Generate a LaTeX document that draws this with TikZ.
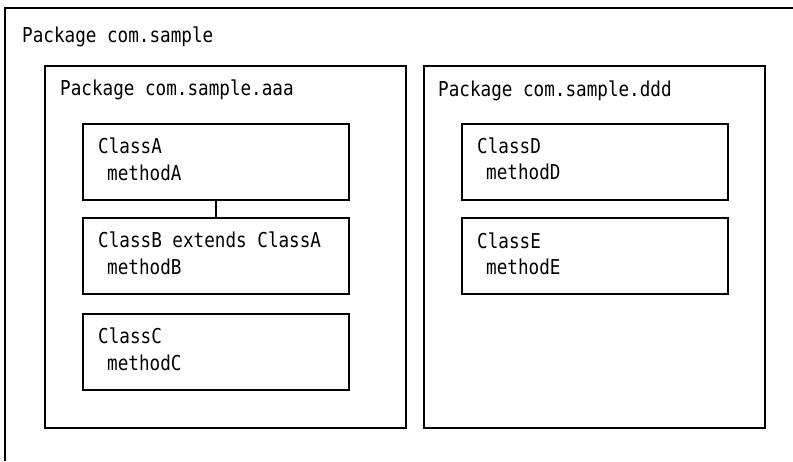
\documentclass[tikz,border=0pt]{standalone}
\usepackage{fontspec}
\newfontfamily\gfont[FakeStretch=0.86]{DejaVu Sans Mono}
\begin{document}
\begin{tikzpicture}[x=1pt,y=-1pt,
  box/.style={draw=black,line width=1.8pt,rectangle,inner sep=0pt,anchor=north west},
  txt/.style={inner sep=0pt,anchor=base west,font=\gfont\fontsize{20.5}{24}\selectfont,text=black},
  link/.style={draw=black,line width=1.8pt}]
\useasboundingbox (0,0) rectangle (793,461);
\coordinate (obl) at (5,461);
\coordinate (otl) at (5,8);
\coordinate (otr) at (793,8);
\draw[link] (obl) -- (otl) -- (otr);
\node[txt] (tout) at (22,42) {Package com.sample};
% package aaa
\node[box,minimum width=361pt,minimum height=362pt] (paaa) at (44,65) {};
\node[txt] (taaa) at (60,95) {Package com.sample.aaa};
\node[box,minimum width=266pt,minimum height=76pt] (ca) at (82,123) {};
\node[txt] (tca) at (98,153) {ClassA};
\node[txt] (mca) at (107,180) {methodA};
\node[box,minimum width=266pt,minimum height=76pt] (cb) at (82,217) {};
\node[txt] (tcb) at (98,247) {ClassB extends ClassA};
\node[txt] (mcb) at (107,274) {methodB};
\node[box,minimum width=266pt,minimum height=76pt] (cc) at (82,313) {};
\node[txt] (tcc) at (98,343) {ClassC};
\node[txt] (mcc) at (107,370) {methodC};
\draw[link] (ca.south) -- (cb.north);
% package ddd
\node[box,minimum width=341pt,minimum height=362pt] (pddd) at (423,65) {};
\node[txt] (tddd) at (438,96) {Package com.sample.ddd};
\node[box,minimum width=266pt,minimum height=76pt] (cd) at (461,123) {};
\node[txt] (tcd) at (477,153) {ClassD};
\node[txt] (mcd) at (486,179) {methodD};
\node[box,minimum width=266pt,minimum height=76pt] (ce) at (461,217) {};
\node[txt] (tce) at (477,248) {ClassE};
\node[txt] (mce) at (486,274) {methodE};
\end{tikzpicture}
\end{document}
